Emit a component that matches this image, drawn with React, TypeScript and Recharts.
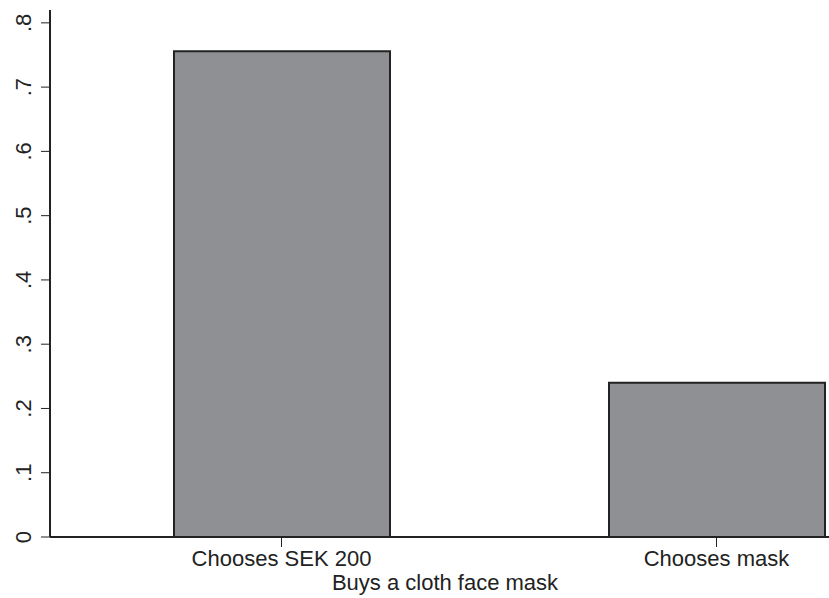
import { BarChart, Bar, XAxis, YAxis } from "recharts";

const categories = ["Chooses SEK 200", "Chooses mask"];
const shares = [0.756, 0.24];
const yTicks = [0, 0.1, 0.2, 0.3, 0.4, 0.5, 0.6, 0.7, 0.8];
const yTickLabels = ["0", ".1", ".2", ".3", ".4", ".5", ".6", ".7", ".8"];
const xTitle = "Buys a cloth face mask";

const data = categories.map((name, i) => ({ name, share: shares[i] }));

const font = "'Liberation Sans', Arial, Helvetica, sans-serif";
const ink = "#222";

function YTick({ x, y, index }: any) {
  return (
    <text
      x={x}
      y={y}
      transform={`rotate(-90, ${x}, ${y})`}
      textAnchor="middle"
      fontSize={22}
      fontFamily={font}
      fill={ink}
    >
      {yTickLabels[index]}
    </text>
  );
}

function XTick({ x, y, payload }: any) {
  return (
    <text x={x} y={y} dy={17} textAnchor="middle" fontSize={22} fontFamily={font} fill={ink}>
      {payload.value}
    </text>
  );
}

export default function App() {
  return (
    <div
      style={{
        position: "absolute",
        left: 0,
        top: 0,
        width: 829,
        height: 598,
        overflow: "hidden",
        background: "#fff",
      }}
    >
      <BarChart
        width={960}
        height={598}
        data={data}
        margin={{ top: 10, right: 10, left: 0, bottom: 0 }}
      >
        <XAxis
          dataKey="name"
          height={61}
          padding={{ left: 14, right: 16 }}
          tick={<XTick />}
          tickSize={10}
          tickMargin={2}
          axisLine={{ stroke: ink, strokeWidth: 2 }}
          tickLine={{ stroke: ink, strokeWidth: 1 }}
          label={{
            content: () => (
              <text x={445} y={590} textAnchor="middle" fontSize={22} fontFamily={font} fill={ink}>
                {xTitle}
              </text>
            ),
          }}
        />
        <XAxis
          xAxisId="top"
          dataKey="name"
          orientation="top"
          height={0}
          tick={false}
          tickLine={false}
          axisLine={{ stroke: "#555", strokeWidth: 1.5 }}
        />
        <YAxis
          width={50}
          domain={[0, 0.82]}
          ticks={yTicks}
          tick={<YTick />}
          tickSize={9}
          tickMargin={10}
          interval={0}
          axisLine={{ stroke: ink, strokeWidth: 2 }}
          tickLine={{ stroke: ink, strokeWidth: 1 }}
          allowDataOverflow
        />
        <Bar
          dataKey="share"
          barSize={216}
          fill="#8f9094"
          stroke={ink}
          strokeWidth={2}
          isAnimationActive={false}
        />
      </BarChart>
    </div>
  );
}
